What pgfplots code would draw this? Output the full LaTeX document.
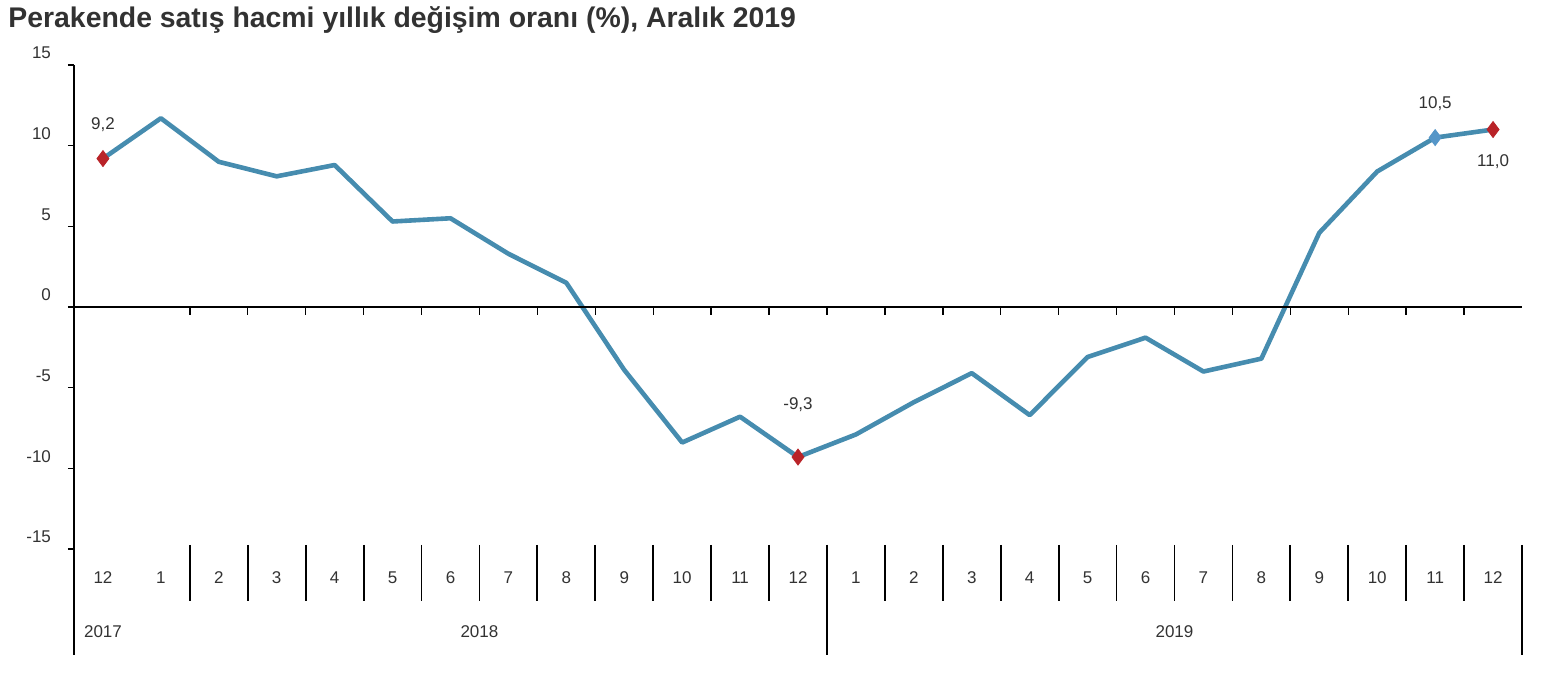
\documentclass[border=0pt]{standalone}
\usepackage{pgfplots}
\pgfplotsset{compat=1.18}
\usepackage{fontspec}
\setmainfont{Liberation Sans}
\definecolor{lineblue}{RGB}{70,140,175}
\definecolor{mkred}{RGB}{185,35,40}
\definecolor{mkblue}{RGB}{85,150,200}
\definecolor{lbl}{RGB}{50,50,50}
\begin{document}
\begin{tikzpicture}
\useasboundingbox (0,0) rectangle (772.5pt,337.5pt);
\node[anchor=west, font=\bfseries\fontsize{14.2}{16}\selectfont, inner sep=0pt, text=lbl] at (4pt,327.5pt) {Perakende satış hacmi yıllık değişim oranı (\%), Aralık 2019};
\begin{axis}[at={(37pt,63pt)}, anchor=south west, width=724pt, height=242pt, scale only axis,
  xmin=-0.5, xmax=24.5, ymin=-15, ymax=15,
  hide x axis, axis y line*=left,
  ytick={-15,-10,...,15}, tick align=outside, major tick length=3pt,
  ytick style={black, line width=0.6pt},
  yticklabel style={font=\fontsize{8.5}{10}\selectfont, text=lbl, yshift=6pt, xshift=-5pt},
  /pgf/number format/assume math mode=true,
  axis line style={line width=0.9pt},
  clip=false]
\addplot[lineblue, line width=2.3pt, line join=round, mark=none] coordinates {
 (0,9.2) (1,11.7) (2,9.0) (3,8.1) (4,8.8) (5,5.3) (6,5.5) (7,3.3) (8,1.5) (9,-3.9)
 (10,-8.4) (11,-6.8) (12,-9.3) (13,-7.9) (14,-5.9) (15,-4.1) (16,-6.7) (17,-3.1)
 (18,-1.9) (19,-4.0) (20,-3.2) (21,4.6) (22,8.4) (23,10.5) (24,11.0)};
\addplot[only marks, mark=diamond*, mark size=4pt, mkred] coordinates {(0,9.2) (12,-9.3) (24,11.0)};
\addplot[only marks, mark=diamond*, mark size=4pt, mkblue] coordinates {(23,10.5)};
\node[font=\fontsize{8.5}{10}\selectfont, text=lbl] at (axis cs:0,9.2) [yshift=17pt] {9,2};
\node[font=\fontsize{8.5}{10}\selectfont, text=lbl] at (axis cs:12,-9.3) [yshift=26pt] {-9,3};
\node[font=\fontsize{8.5}{10}\selectfont, text=lbl] at (axis cs:23,10.5) [yshift=17pt] {10,5};
\node[font=\fontsize{8.5}{10}\selectfont, text=lbl] at (axis cs:24,11.0) [yshift=-16pt] {11,0};
% zero line and ticks
\draw[black, line width=0.9pt] (axis cs:-0.5,0) -- (axis cs:24.5,0);
\foreach \k in {1.5,2.5,3.5,4.5,5.5,6.5,7.5,8.5,9.5,10.5,11.5,12.5,13.5,14.5,15.5,16.5,17.5,18.5,19.5,20.5,21.5,22.5,23.5} {
  \edef\tmp{\noexpand\draw[black, line width=0.7pt] (axis cs:\k,0) -- (axis cs:\k,-0.5);
    \noexpand\draw[black, line width=0.9pt] (axis cs:\k,-14.75) -- (axis cs:\k,-18.2);}\tmp
}
\draw[black, line width=0.9pt] (axis cs:-0.5,-15) -- (axis cs:-0.5,-21.6);
\draw[black, line width=0.9pt] (axis cs:12.5,-14.75) -- (axis cs:12.5,-21.6);
\draw[black, line width=0.9pt] (axis cs:24.5,-14.75) -- (axis cs:24.5,-21.6);
\foreach \k/\l in {0/12,1/1,2/2,3/3,4/4,5/5,6/6,7/7,8/8,9/9,10/10,11/11,12/12,13/1,14/2,15/3,16/4,17/5,18/6,19/7,20/8,21/9,22/10,23/11,24/12} {
  \edef\tmp{\noexpand\node[font=\noexpand\fontsize{8.5}{10}\noexpand\selectfont, text=lbl] at (axis cs:\k,-16.8) {\l};}\tmp
}
\node[font=\fontsize{8.5}{10}\selectfont, text=lbl] at (axis cs:0,-20.1) {2017};
\node[font=\fontsize{8.5}{10}\selectfont, text=lbl] at (axis cs:6.5,-20.1) {2018};
\node[font=\fontsize{8.5}{10}\selectfont, text=lbl] at (axis cs:18.5,-20.1) {2019};
\end{axis}
\end{tikzpicture}
\end{document}
